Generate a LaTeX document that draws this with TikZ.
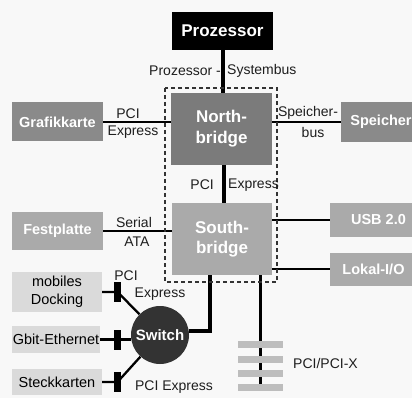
\documentclass[tikz,border=0pt]{standalone}
\usepackage{fontspec}
\setmainfont{Liberation Sans}
\pgfdeclarelayer{bg}
\pgfsetlayers{bg,main}
\definecolor{bgcol}{HTML}{F8F8F8}
\definecolor{northgray}{HTML}{7B7B7B}
\definecolor{darkbox}{HTML}{8A8A8A}
\definecolor{midbox}{HTML}{AAAAAA}
\definecolor{lightbox}{HTML}{DADADA}
\definecolor{switchcol}{HTML}{333333}
\definecolor{slotgray}{HTML}{BDBDBD}
\definecolor{labeltext}{HTML}{1E1E1E}
\definecolor{dashcol}{HTML}{333333}
\tikzset{
  box/.style={rectangle, inner sep=0pt, text=white, align=center,
    font=\fontsize{14.5}{17}\selectfont\bfseries},
  bigbox/.style={box, font=\fontsize{17}{21}\selectfont\bfseries},
  lbox/.style={rectangle, fill=lightbox, inner sep=0pt, text=black, align=center,
    font=\fontsize{14.5}{18}\selectfont},
  lbl/.style={inner sep=0pt, text=labeltext, font=\fontsize{14}{16}\selectfont},
  conn/.style={line width=2.3pt, black},
  bus/.style={line width=4pt, black},
  plug/.style={rectangle, fill=black, minimum width=7pt, minimum height=20pt, inner sep=0pt},
  slot/.style={rectangle, fill=slotgray, minimum width=45pt, minimum height=7pt, inner sep=0pt},
  frame/.style={dashcol, line width=2pt, dash pattern=on 4pt off 3pt},
}
\begin{document}
\begin{tikzpicture}[x=1pt,y=-1pt]
\useasboundingbox (0,0) rectangle (412,398);
\begin{pgfonlayer}{bg}
\fill[bgcol] (0,0) rectangle (412,398);
\end{pgfonlayer}
\clip (0,0) rectangle (412,398);

% boxes
\node[bigbox, fill=black, minimum width=101pt, minimum height=38pt] (proz) at (222.5,31) {Prozessor};
\node[bigbox, fill=northgray, minimum width=101pt, minimum height=72pt] (north) at (221.5,129) {North-\\bridge};
\node[box, font=\fontsize{17}{20}\selectfont\bfseries, fill=midbox, minimum width=100pt, minimum height=72pt] (south) at (222,239) {South-\\bridge};
\node[box, fill=darkbox, minimum width=91pt, minimum height=39pt] (graf) at (57.5,122) {Grafikkarte};
\node[box, fill=darkbox, minimum width=80pt, minimum height=40pt] (speicher) at (381,122) {Speicher};
\node[box, fill=midbox, minimum width=91pt, minimum height=38pt] (fest) at (57.5,231) {Festplatte};
\node[box, fill=midbox, minimum width=97pt, minimum height=33pt] (usb) at (378.5,220) {USB 2.0};
\node[box, fill=midbox, minimum width=87pt, minimum height=33pt] (lokal) at (373.5,269) {Lokal-I/O};
\node[lbox, minimum width=90pt, minimum height=40pt] (dock) at (57,292) {mobiles\\Docking};
\node[lbox, minimum width=88pt, minimum height=27pt] (gbit) at (56,339.5) {Gbit-Ethernet};
\node[lbox, minimum width=90pt, minimum height=26pt] (steck) at (57,382) {Steckkarten};
\node[circle, fill=switchcol, text=white, minimum size=58pt, inner sep=0pt,
  font=\fontsize{15}{17}\selectfont\bfseries] (switch) at (160,335) {Switch};
\node[plug] (p1) at (117.5,292) {};
\node[plug] (p2) at (117.5,339.5) {};
\node[plug] (p3) at (117.5,382) {};
\node[slot] (s1) at (260.5,344.5) {};
\node[slot] (s2) at (260.5,359.5) {};
\node[slot] (s3) at (260.5,373.5) {};
\node[slot] (s4) at (260.5,387) {};

% connectors (behind the boxes)
\begin{pgfonlayer}{bg}
\draw[bus] (proz.south) -- (proz.south |- north.north);
\draw[bus] ([xshift=2.5pt]north.south) -- ([xshift=2pt]south.north);
\draw[conn] (graf.east) -- (graf.east -| north.west);
\draw[conn] (speicher.west) -- (speicher.west -| north.east);
\draw[conn] (fest.east) -- (fest.east -| south.west);
\draw[conn] (usb.west) -- (usb.west -| south.east);
\draw[conn] (lokal.west) -- (lokal.west -| south.east);
\draw[bus] (switch.8) -| ([xshift=38pt]south.south west);
\draw[line width=3pt] (south.south -| s1) -- (s4.center);
\draw[conn] (dock.east) -- (p1.center) -- (switch);
\draw[conn] (gbit.east) -- (switch.west |- gbit.east);
\draw[conn] (steck.east) -- (p3.center) -- (switch);
\draw[frame] (165,88) rectangle (277,282);
\end{pgfonlayer}

% labels
\node[lbl, anchor=east] (l1) at (221,71) {Prozessor -};
\node[lbl, anchor=west] (l2) at (227,71) {Systembus};
\node[lbl] (l3) at (128,114) {PCI};
\node[lbl] (l4) at (133,132) {Express};
\node[lbl] (l5) at (308,113) {Speicher-};
\node[lbl] (l6) at (313,132) {bus};
\node[lbl, anchor=east] (l7) at (214,185) {PCI};
\node[lbl, anchor=west] (l8) at (228,185) {Express};
\node[lbl] (l9) at (134,222) {Serial};
\node[lbl] (l10) at (137,242) {ATA};
\node[lbl] (l11) at (126,276) {PCI};
\node[lbl] (l12) at (160,294) {Express};
\node[lbl] (l13) at (174,387) {PCI Express};
\node[lbl, anchor=west] (l14) at (293,363) {PCI/PCI-X};
\end{tikzpicture}
\end{document}
